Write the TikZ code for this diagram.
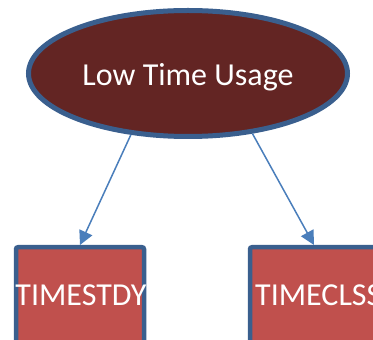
\documentclass[tikz,border=0pt]{standalone}
\usepackage{fontspec}
\setmainfont{Carlito}
\usetikzlibrary{shapes.geometric,arrows.meta}
\definecolor{rootfill}{HTML}{632523}
\definecolor{edgeblue}{HTML}{3A5F8E}
\definecolor{leaffill}{HTML}{C0504D}
\definecolor{linkblue}{HTML}{4A7EBB}
\tikzset{
  label text/.style={text=white, inner sep=0pt, font=\fontsize{32}{38}\selectfont},
  rootnode/.style={ellipse, draw=edgeblue, line width=5pt, fill=rootfill,
    minimum width=319pt, minimum height=126pt, inner sep=0pt},
  leafnode/.style={rectangle, rounded corners=2pt, draw=edgeblue, line width=4.5pt,
    fill=leaffill, minimum width=128pt, minimum height=100pt, inner sep=0pt},
  link/.style={draw=linkblue, line width=1.5pt,
    -{Triangle[length=14pt,width=14pt]}}
}
\begin{document}
\begin{tikzpicture}[x=1pt,y=1pt]
  \useasboundingbox (0,0) rectangle (373,340);
  \clip (0,0) rectangle (373,340);
  \fill[white] (0,0) rectangle (373,340);
  \node[rootnode] (root) at (188,266.5) {};
  \node[label text] (rootlabel) at (188,263) {Low Time Usage};
  \node[leafnode, anchor=north] (study) at (80,95) {};
  \node[label text] (studylabel) at (81,45) {TIMESTDY};
  \node[leafnode, anchor=north] (class) at (314,95) {};
  \node[label text, anchor=west] (classlabel) at (255,45) {TIMECLSS};
  \draw[link] (root.227) -- (study.north);
  \draw[link] (root.317) -- (class.north);
\end{tikzpicture}
\end{document}
